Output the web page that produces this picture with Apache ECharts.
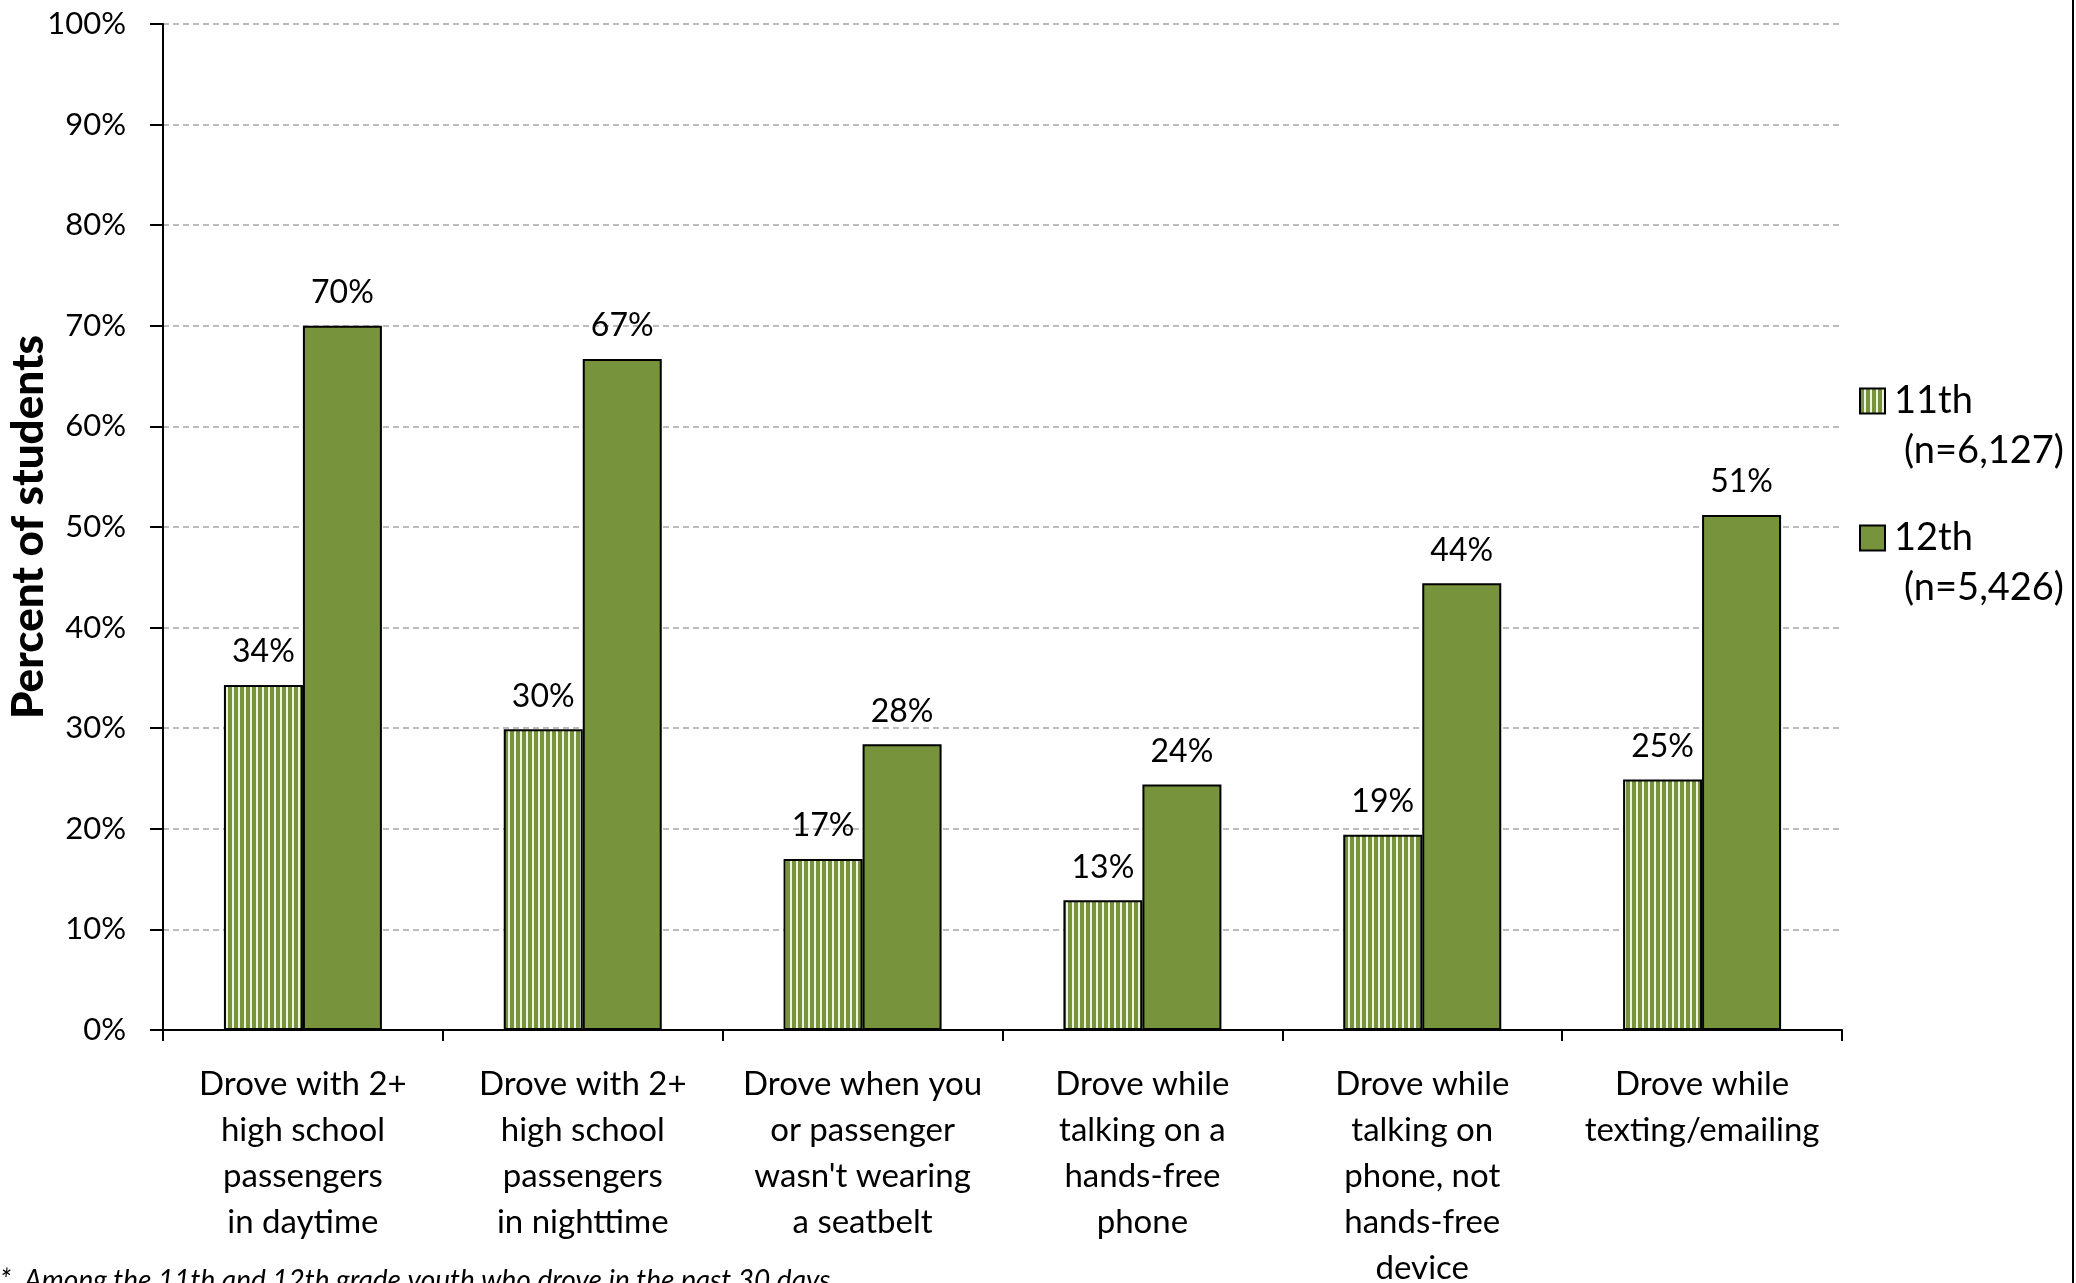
<!DOCTYPE html>
<html>
<head>
<meta charset="utf-8">
<script src="https://cdn.jsdelivr.net/npm/echarts@6/dist/echarts.min.js"></script>
<style>
html,body{margin:0;padding:0;background:#fff;}
#chart{width:2076px;height:1283px;}
</style>
</head>
<body>
<div id="chart"></div>
<script>
var categories = [
  'Drove with 2+\nhigh school\npassengers\nin daytime',
  'Drove with 2+\nhigh school\npassengers\nin nighttime',
  'Drove when you\nor passenger\nwasn\'t wearing\na seatbelt',
  'Drove while\ntalking on a\nhands-free\nphone',
  'Drove while\ntalking on\nphone, not\nhands-free\ndevice',
  'Drove while\ntexting/emailing'
];
var grade11 = [34.3, 29.9, 17.0, 12.9, 19.4, 24.9];
var grade12 = [70.0, 66.7, 28.4, 24.4, 44.4, 51.2];
var seriesNames = ['11th', '12th'];
var seriesNotes = ['(n=6,127)', '(n=5,426)'];
var yTicks = [0, 10, 20, 30, 40, 50, 60, 70, 80, 90, 100];
var footnote = '*  Among the 11th and 12th grade youth who drove in the past 30 days';

var FONT = 'Lato';
var GREEN = '#77933C';

// striped pattern
var pc = document.createElement('canvas');
pc.width = 6; pc.height = 6;
var pctx = pc.getContext('2d');
pctx.fillStyle = GREEN; pctx.fillRect(0, 0, 6, 6);
pctx.fillStyle = '#EEF3E2'; pctx.fillRect(4, 0, 2, 6);

var chart = echarts.init(document.getElementById('chart'));
var labelCfg = {
  show: true, position: 'top', distance: 17,
  fontFamily: FONT, fontSize: 32, color: '#000',
  formatter: function (p) { return Math.round(p.value) + '%'; }
};
chart.setOption({
  animation: false,
  backgroundColor: '#fff',
  grid: { left: 163, right: 234, top: 24, bottom: 253, containLabel: false, outerBoundsMode: 'none' },
  legend: {
    orient: 'vertical', left: 1854, top: 376, icon: 'rect',
    itemWidth: 25, itemHeight: 25, itemGap: 97,
    textStyle: { fontFamily: FONT, fontSize: 38, color: '#000', lineHeight: 40, padding: [0, 0, 0, 4] },
    data: seriesNames
  },
  xAxis: {
    type: 'category', data: categories,
    axisLine: { lineStyle: { color: '#000', width: 2 } },
    axisTick: { show: true, length: 11, lineStyle: { color: '#000', width: 2 }, interval: 0 },
    axisLabel: { interval: 0, fontFamily: FONT, fontSize: 33, lineHeight: 46, color: '#000', margin: 31 }
  },
  yAxis: {
    type: 'value', min: 0, max: 100, interval: 10,
    name: 'Percent of students', nameLocation: 'middle', nameGap: 112, nameMoveOverlap: false,
    nameTextStyle: { fontFamily: FONT, fontSize: 44, fontWeight: 900, color: '#000' },
    axisLine: { show: true, lineStyle: { color: '#000', width: 2 } },
    axisTick: { show: true, length: 13, lineStyle: { color: '#000', width: 2 } },
    axisLabel: { fontFamily: FONT, fontSize: 31, color: '#000', margin: 37,
      formatter: function (v) { return yTicks.indexOf(v) >= 0 ? v + '%' : ''; } },
    splitLine: { show: true, lineStyle: { color: '#A6A6A6', width: 1.5, type: [6, 4] } }
  },
  series: [
    { name: seriesNames[0], type: 'bar', data: grade11, barWidth: 79, barGap: '0%',
      itemStyle: { color: { image: pc, repeat: 'repeat' }, borderColor: '#000', borderWidth: 2 },
      label: labelCfg },
    { name: seriesNames[1], type: 'bar', data: grade12, barWidth: 79,
      itemStyle: { color: GREEN, borderColor: '#000', borderWidth: 2 },
      label: labelCfg }
  ],
  graphic: [
    { type: 'text', left: 1904, top: 432, style: { text: seriesNotes[0], fontFamily: FONT, fontSize: 38, fill: '#000' } },
    { type: 'text', left: 1904, top: 569, style: { text: seriesNotes[1], fontFamily: FONT, fontSize: 38, fill: '#000' } },
    { type: 'text', left: 0, top: 1267, style: { text: footnote, fontFamily: FONT, fontSize: 28, fontStyle: 'italic', fill: '#000' } },
    { type: 'line', shape: { x1: 2073, y1: 0, x2: 2073, y2: 1283 }, style: { stroke: '#000', lineWidth: 2 } }
  ]
});
</script>
</body>
</html>
